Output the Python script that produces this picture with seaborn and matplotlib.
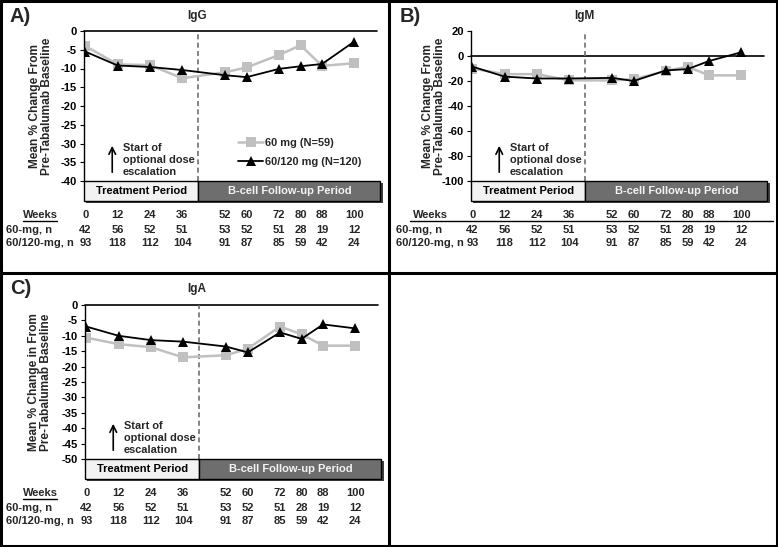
import numpy as np
import pandas as pd
import seaborn as sns
import matplotlib.pyplot as plt
import matplotlib.transforms as mtransforms
from matplotlib.patches import Rectangle

sns.set_theme(style="white")
plt.rcParams["font.family"] = ["Liberation Sans", "DejaVu Sans"]
plt.rcParams["font.weight"] = "bold"
plt.rcParams["axes.unicode_minus"] = False

# data
weeks = [0, 12, 24, 36, 52, 60, 72, 80, 88, 100]
n_60 = [42, 56, 52, 51, 53, 52, 51, 28, 19, 12]
n_60_120 = [93, 118, 112, 104, 91, 87, 85, 59, 42, 24]

igg_60 = [-4.0, -8.9, -9.1, -12.6, -11.0, -9.7, -6.4, -3.8, -9.3, -8.6]
igg_60_120 = [-5.5, -9.2, -9.6, -10.4, -11.8, -12.3, -10.1, -9.4, -8.8, -2.8]
igm_60 = [-10.0, -14.5, -14.5, -19.5, -19.5, -18.5, -12.0, -8.5, -15.5, -15.5]
igm_60_120 = [-8.5, -16.5, -18.0, -18.0, -17.5, -20.0, -11.5, -10.5, -4.0, 3.0]
iga_60 = [-10.6, -12.7, -13.7, -17.0, -16.3, -14.2, -7.0, -9.5, -13.2, -13.2]
iga_60_120 = [-7.0, -10.0, -11.4, -11.9, -13.5, -15.4, -8.9, -11.0, -6.3, -7.6]

lab_60 = "60 mg (N=59)"
lab_120 = "60/120 mg (N=120)"

W, H = 778, 547
fig = plt.figure(figsize=(W / 100, H / 100), dpi=100)


def fx(px):
    return px / W


def fy(py):
    return 1 - py / H


GRAY = "#c0c0c0"
XLIM = (-0.5, 108.5)
DOSE_X = 42
FS = 8

panels = [
    dict(tag="A)", title="IgG", ox=0, oy=0, left=84, top=31, bottom=181,
         ylim=(-40, 0), yt=np.arange(-40, 1, 5), s60=igg_60, s120=igg_60_120,
         ylab="Mean % Change From\nPre-Tabalumab Baseline", ylx=41, legend=True,
         full_line=False, tx=197),
    dict(tag="B)", title="IgM", ox=390, oy=0, left=471, top=31, bottom=181,
         ylim=(-100, 20), yt=np.arange(-100, 21, 20), s60=igm_60, s120=igm_60_120,
         ylab="Mean % Change From\nPre-Tabalumab Baseline", ylx=434, legend=False,
         full_line=True, tx=584),
    dict(tag="C)", title="IgA", ox=0, oy=273, left=85, top=305, bottom=459,
         ylim=(-50, 0), yt=np.arange(-50, 1, 5), s60=iga_60, s120=iga_60_120,
         ylab="Mean % Change in From\nPre-Tabalumab Baseline", ylx=40, legend=False,
         full_line=False, tx=197),
]

for p in panels:
    width = (XLIM[1] - XLIM[0]) * 2.69
    ax = fig.add_axes([fx(p["left"]), fy(p["bottom"]), width / W,
                       (p["bottom"] - p["top"]) / H])
    ax.set_facecolor("none")
    sns.lineplot(x=weeks, y=p["s60"], color=GRAY, lw=1.8, marker="s",
                 markersize=6.5, markeredgewidth=0, ax=ax)
    sns.lineplot(x=weeks, y=p["s120"], color="black", lw=1.3, marker="^",
                 markersize=7.5, markeredgewidth=0, ax=ax)
    h60, h120 = ax.lines[0], ax.lines[1]
    ax.axhline(0, color="black", lw=1.2, clip_on=False, zorder=1)
    ax.axvline(DOSE_X, color="#707070", lw=1.2, ls=(0, (3, 2)), zorder=1)
    ax.set_xlim(*XLIM)
    ax.set_ylim(*p["ylim"])
    ax.set_yticks(p["yt"])
    ax.set_xticks([])
    ax.set_xlabel("")
    ax.set_ylabel("")
    for s in ["top", "right", "bottom"]:
        ax.spines[s].set_visible(False)
    ax.spines["left"].set_color("black")
    ax.spines["left"].set_linewidth(1.0)
    ax.tick_params(axis="y", direction="out", length=3, width=0.8,
                   labelsize=FS, pad=2, left=True, colors="black")

    trans = mtransforms.blended_transform_factory(ax.transData, fig.transFigure)
    bt = p["bottom"]
    bh = 20
    # period boxes with shadow
    boxes = [(XLIM[0], DOSE_X, "#f2f2f2"), (DOSE_X, 109.7, "#6e6e6e")]
    for x0, x1, fc in boxes:
        ax.add_patch(Rectangle((x0 + 0.8, fy(bt + bh + 2)), x1 - x0, bh / H,
                               transform=trans, clip_on=False, fc="#404040",
                               ec="none", zorder=2))
    for x0, x1, fc in boxes:
        ax.add_patch(Rectangle((x0, fy(bt + bh)), x1 - x0, bh / H,
                               transform=trans, clip_on=False, fc=fc,
                               ec="black", lw=1.0, zorder=3))
    ax.text((XLIM[0] + DOSE_X) / 2, fy(bt + bh / 2), "Treatment Period",
            transform=trans, ha="center", va="center", fontsize=8,
            color="black", zorder=4)
    ax.text((DOSE_X + 109.7) / 2, fy(bt + bh / 2), "B-cell Follow-up Period",
            transform=trans, ha="center", va="center", fontsize=8,
            color="#f4f4f4", zorder=4)

    # table under the chart
    wy = bt + 34
    for w in weeks:
        ax.text(w, fy(wy), str(w), transform=trans, ha="center", va="center",
                fontsize=FS)
    for w, a, b in zip(weeks, n_60, n_60_120):
        ax.text(w, fy(wy + 15), str(a), transform=trans, ha="center",
                va="center", fontsize=FS)
        ax.text(w, fy(wy + 28), str(b), transform=trans, ha="center",
                va="center", fontsize=FS)
    ox = p["ox"]
    fig.text(fx(ox + 23), fy(wy), "Weeks", ha="left", va="center", fontsize=FS)
    if p["full_line"]:
        fig.add_artist(plt.Line2D([fx(ox + 20), fx(ox + 383)],
                                  [fy(wy + 6), fy(wy + 6)], color="black", lw=1))
    else:
        fig.add_artist(plt.Line2D([fx(ox + 23), fx(ox + 57)],
                                  [fy(wy + 6), fy(wy + 6)], color="black", lw=1))
    fig.text(fx(ox + 6), fy(wy + 15), "60-mg, n", ha="left", va="center",
             fontsize=FS)
    fig.text(fx(ox + 6), fy(wy + 28), "60/120-mg, n", ha="left", va="center",
             fontsize=FS)

    # titles and labels
    fig.text(fx(ox + 10), fy(p["oy"] + 16), p["tag"], ha="left", va="center",
             fontsize=14.5)
    fig.text(fx(p["tx"]), fy(p["oy"] + 16), p["title"], ha="center",
             va="center", fontsize=8.5)
    fig.text(fx(p["ylx"]), fy((p["top"] + p["bottom"]) / 2), p["ylab"],
             rotation=90, ha="center", va="center", fontsize=8.6,
             multialignment="center", linespacing=1.05)

    # dose escalation note
    ax.annotate("", xy=(10, fy(bt - 38)), xytext=(10, fy(bt - 6)),
                xycoords=trans, textcoords=trans,
                arrowprops=dict(arrowstyle="->", lw=1.2, color="black"))
    ax.text(14, fy(bt - 21), "Start of\noptional dose\nescalation",
            transform=trans, ha="left", va="center", fontsize=7.9,
            linespacing=1.25)

    if p["legend"]:
        ax.legend([h60, h120], [lab_60, lab_120], loc="upper left",
                  bbox_to_anchor=(fx(238), fy(138)),
                  bbox_transform=fig.transFigure, frameon=False, fontsize=7.9,
                  handlelength=2.3, handletextpad=0.15, labelspacing=0.85,
                  borderpad=0, borderaxespad=0)

# panel borders
lw = 2.2
fig.add_artist(Rectangle((0.001, 0.001), 0.998, 0.997, transform=fig.transFigure,
                         fill=False, ec="black", lw=lw))
fig.add_artist(plt.Line2D([fx(389), fx(389)], [0, 1], color="black", lw=lw))
fig.add_artist(plt.Line2D([0, 1], [fy(273), fy(273)], color="black", lw=lw))

fig.savefig("out.png", dpi=100)
